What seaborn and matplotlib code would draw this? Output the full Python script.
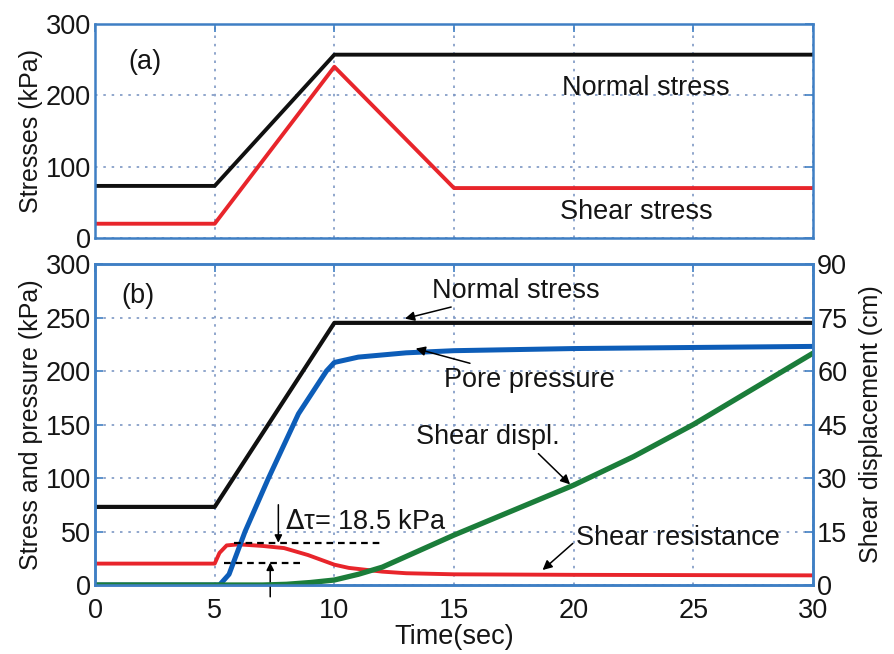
import matplotlib
matplotlib.use("Agg")
import matplotlib.pyplot as plt
import seaborn as sns
import pandas as pd

# ---- (a) applied loading ----
t_top = [0, 5, 10, 15, 30]
normal_top = [73, 73, 257, 257, 257]
shear_top = [20, 20, 240, 70, 70]

# ---- (b) measured response ----
t_normal = [0, 5, 10, 30]
normal_b = [73, 73, 245, 245]

t_pore = [0, 5.2, 5.6, 6.27, 7.25, 8.5, 9.67, 10, 11, 13, 15, 20, 25, 30]
pore_b = [0, 0, 10, 50, 100, 160, 200, 208, 213, 217, 219, 221, 222, 223]

t_res = [0, 5, 5.2, 5.5, 6, 7, 7.9, 8.9, 10, 10.6, 12, 13, 15, 20, 30]
res_b = [20, 20, 30, 37, 38, 36.5, 34.5, 28, 19, 16, 12.5, 11, 10, 9.5, 9]

t_disp = [0, 7, 8, 9, 10, 11, 12, 13, 14, 15, 17.5, 20, 22.5, 25, 27.5, 30]
disp_b = [0, 0, 0.2, 0.7, 1.4, 3, 5, 8, 11, 14, 21, 28, 36, 45, 55, 65]

tau_low, tau_high = 21.0, 39.5
delta_tau = 18.5

x_ticks = [0, 5, 10, 15, 20, 25, 30]

sns.set_theme(style="white")
plt.rcParams["font.family"] = ["Liberation Sans", "DejaVu Sans"]
plt.rcParams["mathtext.fontset"] = "dejavusans"

FS = 19.5      # annotations and tick labels
FS_LAB = 18    # axis titles
SPINE = "#3f7fc4"
GRID = "#7d97c4"
TXT = "#151515"
BLACK = "#101010"
RED = "#e8252b"
BLUE = "#0d5db8"
GREEN = "#1b7d3a"

fig = plt.figure(figsize=(8.94, 6.54), dpi=100)
ax_a = fig.add_axes([0.1063, 0.6361, 0.8031, 0.3272])
ax_b = fig.add_axes([0.1063, 0.1055, 0.8031, 0.4908])


def style_axes(ax, right=True):
    for s in ax.spines.values():
        s.set_color(SPINE)
        s.set_linewidth(1.8)
    ax.tick_params(direction="in", length=6, width=1.2, color=SPINE,
                   labelsize=FS, top=True, right=right, pad=3,
                   labelcolor=TXT)
    ax.tick_params(axis="x", pad=9)
    ax.grid(True, linestyle=(0, (1.5, 3.5)), color=GRID, linewidth=1.2)


# ---------- panel (a) ----------
df_a = pd.DataFrame({"t": t_top, "normal": normal_top, "shear": shear_top})
sns.lineplot(data=df_a, x="t", y="normal", ax=ax_a, color=BLACK, lw=2.8)
sns.lineplot(data=df_a, x="t", y="shear", ax=ax_a, color=RED, lw=2.8)
ax_a.set_xlim(0, 30)
ax_a.set_ylim(0, 300)
ax_a.set_xticks(x_ticks)
ax_a.set_xticklabels([])
ax_a.set_yticks([0, 100, 200, 300])
ax_a.set_xlabel("")
ax_a.set_ylabel("Stresses (kPa)", fontsize=FS_LAB, labelpad=2, color=TXT)
style_axes(ax_a)
ax_a.text(2.1, 247, "(a)", fontsize=FS, ha="center", va="center", color=TXT)
ax_a.text(23.0, 210, "Normal stress", fontsize=FS, ha="center", va="center", color=TXT)
ax_a.text(22.6, 36, "Shear stress", fontsize=FS, ha="center", va="center", color=TXT)

# ---------- panel (b) ----------
ax_d = ax_b.twinx()

sns.lineplot(x=t_normal, y=normal_b, ax=ax_b, color=BLACK, lw=3.0)
sns.lineplot(x=t_res, y=res_b, ax=ax_b, color=RED, lw=2.8)
sns.lineplot(x=t_pore, y=pore_b, ax=ax_b, color=BLUE, lw=3.6)
sns.lineplot(x=t_disp, y=disp_b, ax=ax_d, color=GREEN, lw=3.8)

ax_b.set_xlim(0, 30)
ax_b.set_ylim(0, 300)
ax_b.set_xticks(x_ticks)
ax_b.set_yticks([0, 50, 100, 150, 200, 250, 300])
ax_b.set_xlabel("Time(sec)", fontsize=FS, labelpad=0, color=TXT)
ax_b.set_ylabel("Stress and pressure (kPa)", fontsize=FS_LAB, labelpad=2, color=TXT)
style_axes(ax_b, right=False)

ax_d.set_ylim(0, 90)
ax_d.set_yticks([0, 15, 30, 45, 60, 75, 90])
ax_d.set_ylabel("Shear displacement (cm)", fontsize=FS_LAB, labelpad=8, color=TXT)
ax_d.tick_params(direction="in", length=6, width=1.2, color=SPINE,
                 labelsize=FS, right=True, pad=3, labelcolor=TXT)
ax_d.grid(False)
for s in ax_d.spines.values():
    s.set_color(SPINE)
    s.set_linewidth(1.8)

ax_b.text(1.8, 270, "(b)", fontsize=FS, ha="center", va="center", color=TXT)

arrow = dict(arrowstyle="-|>", color="black", lw=1.1,
             mutation_scale=14, shrinkA=0, shrinkB=0)

ax_b.annotate("Normal stress", xy=(12.95, 249), xytext=(14.1, 275),
              fontsize=FS, ha="left", va="center", color=TXT, arrowprops=arrow)
ax_b.annotate("Pore pressure", xy=(13.4, 221), xytext=(14.6, 192),
              fontsize=FS, ha="left", va="center", color=TXT, arrowprops=arrow)
ax_b.annotate("Shear displ.", xy=(19.85, 94), xytext=(13.4, 138),
              fontsize=FS, ha="left", va="center", color=TXT,
              arrowprops=dict(arrow, relpos=(0.83, 0.0)))
ax_b.annotate("Shear resistance", xy=(18.7, 14), xytext=(20.1, 44),
              fontsize=FS, ha="left", va="center", color=TXT,
              arrowprops=dict(arrow, relpos=(0.0, 0.4)))

# peak rise of shear resistance
ax_b.plot([5.8, 11.9], [tau_high, tau_high], ls="--", color="black",
          lw=1.6, dashes=(3, 2.2))
ax_b.plot([5.4, 8.6], [tau_low, tau_low], ls="--", color="black",
          lw=1.6, dashes=(3, 2.2))
ax_b.annotate("", xy=(7.66, tau_high), xytext=(7.66, 75),
              arrowprops=dict(arrow, mutation_scale=11))
ax_b.annotate("", xy=(7.32, tau_low), xytext=(7.32, -11),
              arrowprops=dict(arrow, mutation_scale=11),
              annotation_clip=False)
ax_b.text(7.95, 59, "$\\mathit{\\Delta}$\u03c4= %.1f kPa" % delta_tau,
          fontsize=FS, ha="left", va="center", color=TXT)

fig.savefig("out.png", dpi=100)
